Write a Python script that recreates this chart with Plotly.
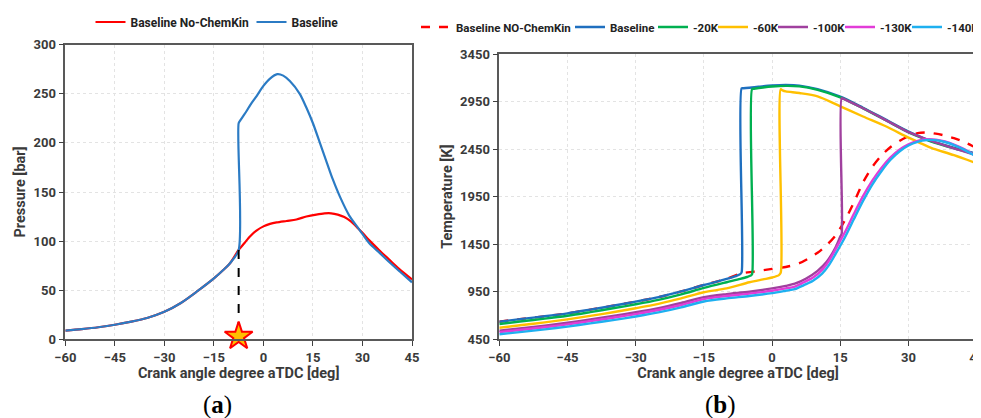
import plotly.graph_objects as go

# ---------------- data: (a) pressure ----------------
ca_p_baseline = [-60, -55, -50, -45, -40, -35, -30, -25, -20, -15, -12, -10, -7.5, -7.5, -7, -5, -4, -2, 0, 2, 4.2,
                 6, 8, 11, 13, 15, 17, 19.2, 21, 23.2, 26, 29.2, 32, 35.2, 38, 41.3, 45]
p_baseline = [8.8, 10.4, 12.3, 14.8, 18, 22, 28, 37, 49, 62, 71, 78, 91, 220, 223, 233, 238.5, 248, 258, 265.5,
              270, 268.5, 263, 250, 236, 220, 201, 180, 163, 145, 126, 111, 98, 88, 79, 69, 58]
ca_p_nochem = [-60, -55, -50, -45, -40, -35, -30, -25, -20, -15, -12, -10, -7.5, -6, -4, -2, 0, 2, 4, 7, 10, 13, 16,
               18.5, 20.5, 22.5, 24.5, 26.5, 28.5, 30, 32, 35, 38, 41, 45]
p_nochem = [8.8, 10.4, 12.3, 14.8, 18, 22, 28, 37, 49, 62, 71, 78, 91, 97, 105, 111, 115, 117.5, 119, 120.5,
            122, 125, 127, 128.2, 128.3, 127, 124.5, 120, 113.5, 108.5, 101, 91, 81.5, 72, 61]
ignition_ca = [-7.5, -7.5]
ignition_p = [91, 6]
star_ca = [-7.5]
star_p = [3]

# ---------------- data: (b) temperature ----------------
ca_t_nochem = [-60, -55, -50, -45, -40, -35, -30, -25, -20, -15, -10, -7, -4, 0, 3, 6, 8, 10, 12, 14, 16, 18, 20, 22,
               24, 26, 28, 30, 32, 34, 36, 38, 40, 42, 45]
t_nochem = [635, 665, 692, 723, 762, 803, 846, 893, 953, 1021, 1085, 1140, 1162, 1190, 1210, 1250, 1300, 1360, 1440,
            1545, 1700, 1890, 2100, 2260, 2380, 2470, 2535, 2585, 2618, 2625, 2612, 2592, 2565, 2530, 2460]

ca_t_baseline = [-60, -55, -50, -45, -40, -35, -30, -25, -20, -15, -10, -8, -7, -6.7, -6.7, -6.3, -5, -3, 0, 3, 6, 10,
                 15, 20, 25, 30, 33, 35, 40, 45]
t_baseline = [635, 665, 692, 723, 762, 803, 846, 893, 953, 1021, 1085, 1115, 1135, 1155, 3089, 3090, 3095, 3105, 3118,
              3124, 3118, 3080, 3001, 2885, 2760, 2635, 2572, 2535, 2465, 2400]

ca_t_20k = [-60, -55, -50, -45, -40, -35, -30, -25, -20, -15, -10, -7, -5.5, -4.7, -4.4, -4.4, -4, -2, 0, 3, 6, 10, 15,
            20, 25, 30, 33, 35, 40, 45]
t_20k = [611, 640, 667, 698, 736, 776, 818, 865, 923, 990, 1050, 1085, 1105, 1120, 1135, 3082, 3085, 3098, 3108, 3115,
         3110, 3073, 2994, 2878, 2753, 2626, 2566, 2530, 2458, 2393]

ca_t_60k = [-60, -55, -50, -45, -40, -35, -30, -25, -20, -15, -10, -5, -2, 0, 1.5, 1.9, 1.9, 2.3, 3, 6, 10, 15, 20,
            25, 30, 33, 35, 40, 45]
t_60k = [572, 600, 628, 660, 696, 735, 777, 823, 880, 945, 985, 1050, 1080, 1100, 1125, 1150, 3079, 3068, 3057, 3040,
         3005, 2900, 2793, 2690, 2570, 2505, 2462, 2386, 2300]

ca_t_100k = [-60, -55, -50, -45, -40, -35, -30, -25, -20, -15, -10, -5, 0, 3, 5, 7.5, 10, 12, 14, 15, 15.3, 15.3,
             15.7, 17, 20, 25, 30, 33, 35, 40, 45]
t_100k = [540, 566, 593, 624, 659, 696, 735, 778, 832, 893, 925, 950, 985, 1012, 1035, 1090, 1170, 1265, 1420, 1530,
          1560, 2984, 2978, 2950, 2880, 2755, 2628, 2572, 2537, 2458, 2385]

ca_t_130k = [-60, -55, -50, -45, -40, -35, -30, -25, -20, -15, -10, -5, 0, 3, 5, 7, 9, 11, 12.5, 14, 16, 18, 20, 22,
             24, 26, 28, 30, 32, 34, 36, 38, 40, 42, 45]
t_130k = [525, 551, 577, 607, 641, 677, 715, 758, 811, 873, 905, 930, 960, 985, 1005, 1050, 1100, 1180, 1275, 1400,
          1575, 1770, 1955, 2115, 2250, 2360, 2443, 2500, 2537, 2553, 2550, 2530, 2497, 2455, 2375]

ca_t_140k = [-60, -55, -50, -45, -40, -35, -30, -25, -20, -15, -10, -5, 0, 3, 5, 7, 9, 11, 12.5, 14, 16, 18, 20, 22,
             24, 26, 28, 30, 32, 34, 36, 38, 40, 42, 45]
t_140k = [503, 528, 554, 583, 617, 652, 690, 733, 786, 848, 880, 905, 935, 960, 978, 1020, 1065, 1140, 1230, 1350,
          1520, 1715, 1905, 2075, 2215, 2335, 2425, 2488, 2527, 2546, 2544, 2525, 2493, 2450, 2370]

x_ticks = [-60, -45, -30, -15, 0, 15, 30, 45]
p_ticks = [0, 50, 100, 150, 200, 250, 300]
t_ticks = [450, 950, 1450, 1950, 2450, 2950, 3450]

# ---------------- layout helpers (page body has an 8px margin) ----------------
OFF = 8
W, H = 981 - OFF, 418 - OFF


def fx(px):
    return (px - OFF) / W


def fy(py):
    return 1 - (py - OFF) / H


FONT = "Roboto"
TXT = "#3a3a3a"
RED = "#FF0000"
BLUE = "#2B7BC4"
BLUE_B = "#1F6FBF"
GREEN = "#00B050"
YELLOW = "#FFC000"
PURPLE = "#A0409E"
MAGENTA = "#E23CD8"
LBLUE = "#1EB0F0"

fig = go.Figure()

# (a)
fig.add_trace(go.Scatter(x=ca_p_nochem, y=p_nochem, mode="lines", name="Baseline No-ChemKin",
                         line=dict(color=RED, width=2.2, shape="spline", smoothing=0.8),
                         xaxis="x", yaxis="y", legend="legend", legendwidth=116))
fig.add_trace(go.Scatter(x=ca_p_baseline, y=p_baseline, mode="lines", name="Baseline",
                         line=dict(color=BLUE, width=2.2, shape="spline", smoothing=0.8),
                         xaxis="x", yaxis="y", legend="legend"))
fig.add_trace(go.Scatter(x=ignition_ca, y=ignition_p, mode="lines", showlegend=False,
                         line=dict(color="black", width=2, dash="dash"), xaxis="x", yaxis="y"))
fig.add_trace(go.Scatter(x=star_ca, y=star_p, mode="markers", showlegend=False,
                         marker=dict(symbol="star", size=21, color="#FFC000", line=dict(color=RED, width=2)),
                         xaxis="x", yaxis="y", cliponaxis=False))

# (b)
series_b = [
    ("Baseline NO-ChemKin", ca_t_nochem, t_nochem, RED, "dash", 109),
    ("Baseline", ca_t_baseline, t_baseline, BLUE_B, "solid", 38),
    ("-20K", ca_t_20k, t_20k, GREEN, "solid", 15),
    ("-60K", ca_t_60k, t_60k, YELLOW, "solid", 15),
    ("-100K", ca_t_100k, t_100k, PURPLE, "solid", 22),
    ("-130K", ca_t_130k, t_130k, MAGENTA, "solid", 22),
    ("-140K", ca_t_140k, t_140k, LBLUE, "solid", 31),
]
for name, xs, ys, col, dash, lw in series_b:
    fig.add_trace(go.Scatter(x=xs, y=ys, mode="lines", name=name,
                             line=dict(color=col, width=2.4, dash=dash, shape="spline", smoothing=0.8),
                             xaxis="x2", yaxis="y2", legend="legend2", legendwidth=lw))

axis_common = dict(
    showline=True, linecolor="#595959", linewidth=1.5, mirror=True,
    ticks="outside", ticklen=5, tickcolor="#404040", tickwidth=1.2,
    showgrid=True, gridcolor="#E3E3E3", griddash="dot", gridwidth=1,
    zeroline=False, ticklabeloverflow="allow",
    tickfont=dict(family=FONT, size=13, color=TXT, weight="bold"),
)
title_font = dict(family=FONT, size=14.5, color=TXT, weight="bold")

fig.update_layout(
    width=W, height=H,
    margin=dict(l=0, r=0, t=0, b=0, autoexpand=False),
    paper_bgcolor="white", plot_bgcolor="white",
    xaxis=dict(domain=[fx(65.3), fx(412)], range=[-60, 45], tickvals=x_ticks, anchor="y",
               title=dict(text="Crank angle degree aTDC [deg]", font=title_font, standoff=3), **axis_common),
    yaxis=dict(domain=[fy(339.3), fy(44.7)], range=[0, 300], tickvals=p_ticks, anchor="x",
               title=dict(text="Pressure [bar]", font=title_font, standoff=4), **axis_common),
    xaxis2=dict(domain=[fx(499.3), min(1.0, fx(976.7))], range=[-60, 45], tickvals=x_ticks, anchor="y2",
                title=dict(text="Crank angle degree aTDC [deg]", font=title_font, standoff=3), **axis_common),
    yaxis2=dict(domain=[fy(339.3), fy(54)], range=[450, 3450], tickvals=t_ticks, anchor="x2",
                title=dict(text="Temperature [K]", font=title_font, standoff=4), **axis_common),
    legend=dict(orientation="h", x=fx(217), xanchor="center", y=fy(22), yanchor="middle",
                font=dict(family=FONT, size=12, color="#222222", weight="bold"),
                bgcolor="rgba(0,0,0,0)", traceorder="normal"),
    legend2=dict(orientation="h", x=fx(416), xanchor="left", y=fy(27), yanchor="middle",
                 font=dict(family=FONT, size=11.5, color="#222222", weight="bold"),
                 bgcolor="rgba(0,0,0,0)", traceorder="normal"),
    annotations=[
        dict(text="(<b>a</b>)", x=fx(217), y=fy(405), xref="paper", yref="paper", showarrow=False,
             xanchor="center", yanchor="middle",
             font=dict(family="Liberation Serif", size=25, color="black")),
        dict(text="(<b>b</b>)", x=fx(720), y=fy(405), xref="paper", yref="paper", showarrow=False,
             xanchor="center", yanchor="middle",
             font=dict(family="Liberation Serif", size=25, color="black")),
    ],
)

fig.write_html("out.html")
